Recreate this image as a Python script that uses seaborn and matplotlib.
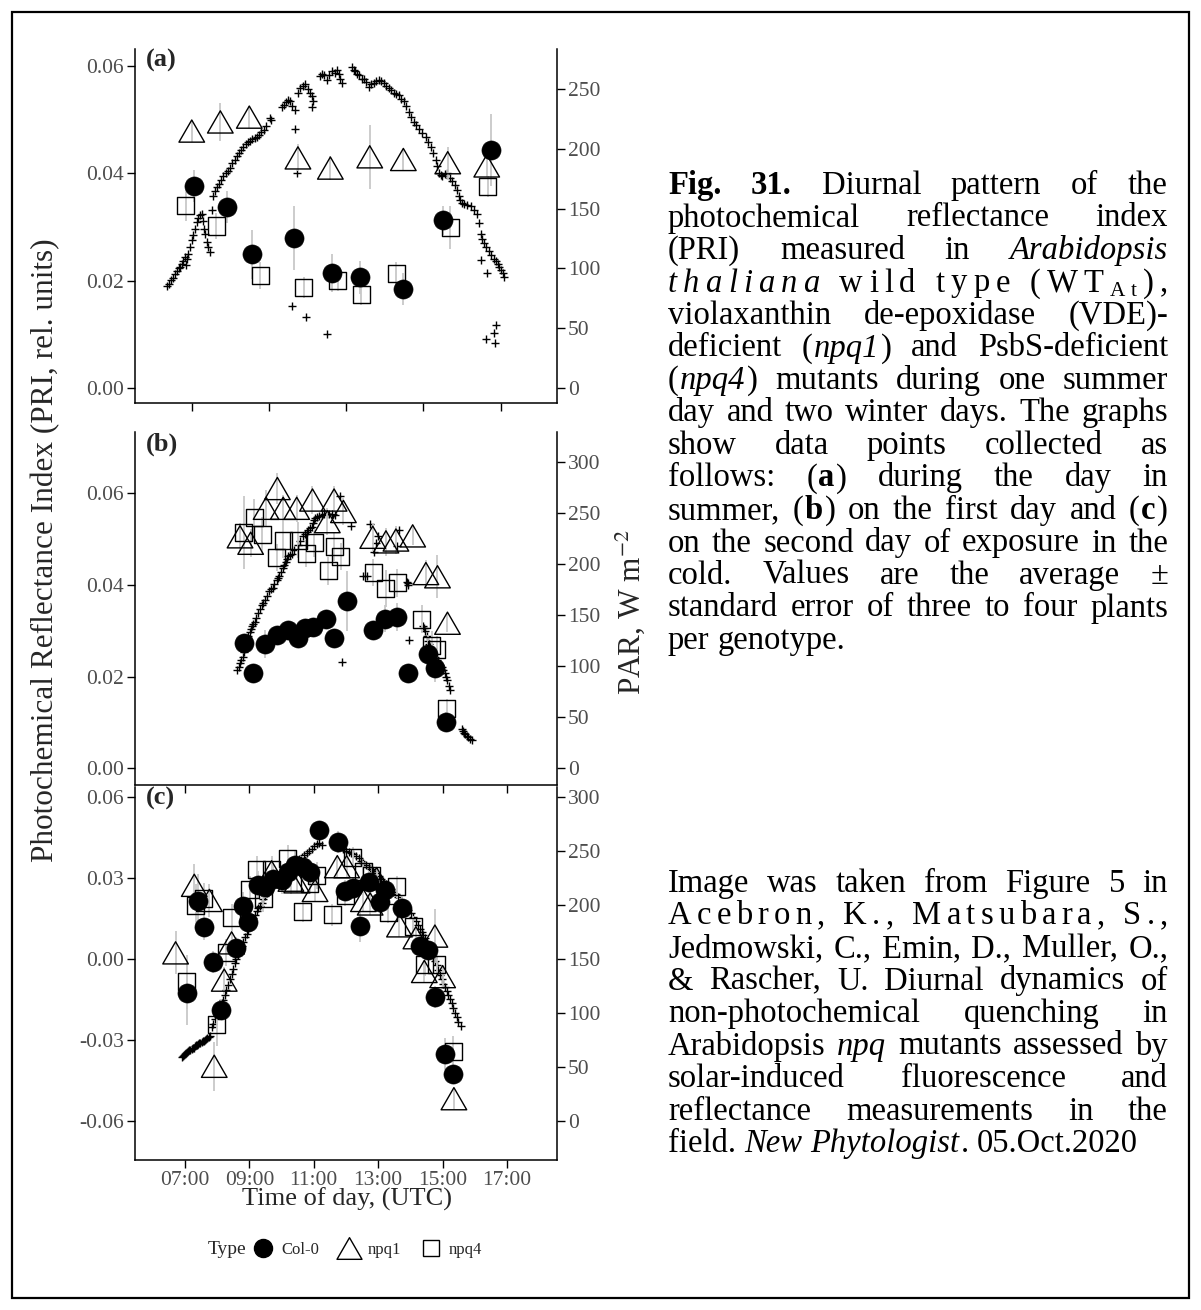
import numpy as np
import pandas as pd
import matplotlib
matplotlib.use("Agg")
import matplotlib.pyplot as plt
import seaborn as sns
from matplotlib.lines import Line2D
from matplotlib.markers import MarkerStyle
from matplotlib.path import Path
from matplotlib.patches import Rectangle

# ---------------- data ----------------
# Panel (a) summer day
a_col0_t = [7.07, 7.91, 8.56, 9.64, 10.62, 11.37, 12.48, 13.51, 14.74]
a_col0_pri = [0.0376, 0.0337, 0.0249, 0.0280, 0.0214, 0.0206, 0.0185, 0.0313, 0.0443]
a_col0_se = [0.003, 0.003, 0.0045, 0.006, 0.0035, 0.003, 0.003, 0.0027, 0.0067]
a_npq1_t = [7.0, 7.74, 8.49, 9.75, 10.59, 11.61, 12.48, 13.63, 14.64]
a_npq1_pri = [0.0479, 0.0496, 0.0505, 0.0429, 0.0410, 0.0431, 0.0426, 0.0420, 0.0414]
a_npq1_se = [0.002, 0.0035, 0.002, 0.0025, 0.0022, 0.006, 0.002, 0.003, 0.002]
a_npq4_t = [6.84, 7.63, 8.77, 9.90, 10.78, 11.39, 12.30, 13.70, 14.67]
a_npq4_pri = [0.0341, 0.0302, 0.0209, 0.0187, 0.0200, 0.0175, 0.0214, 0.0299, 0.0376]
a_npq4_se = [0.003, 0.0025, 0.0025, 0.002, 0.002, 0.002, 0.002, 0.004, 0.002]
a_par_t = [6.37, 6.42, 6.47, 6.52, 6.57, 6.62, 6.66, 6.70, 6.74, 6.78, 6.83, 6.86, 6.88, 6.91, 6.95,
           7.00, 7.04, 7.08, 7.13, 7.17, 7.22, 7.26, 7.30, 7.33, 7.35, 7.40, 7.43, 7.48, 7.52, 7.55,
           7.60, 7.65, 7.70, 7.75, 7.82, 7.88, 7.94, 7.99, 8.05, 8.11, 8.17, 8.23, 8.28, 8.34, 8.40,
           8.46, 8.51, 8.57, 8.63, 8.69, 8.75, 8.80, 8.86, 8.92, 9.03, 9.05, 9.35, 9.40, 9.45, 9.50,
           9.55, 9.60, 9.68, 9.68, 9.72, 9.60, 9.97, 10.49, 9.75, 9.81, 9.87, 9.94, 10.00, 10.06, 10.11,
           10.11, 10.15, 10.33, 10.38, 10.43, 10.50, 10.55, 10.63, 10.70, 10.75, 10.81, 10.85, 10.89, 11.15, 11.20,
           11.24, 11.28, 11.33, 11.40, 11.46, 11.52, 11.58, 11.65, 11.71, 11.78, 11.84, 11.90, 11.97, 12.03, 12.10,
           12.16, 12.23, 12.30, 12.36, 12.42, 12.49, 12.55, 12.62, 12.68, 12.75, 12.81, 12.88, 12.97, 13.06, 13.12,
           13.19, 13.25, 13.32, 13.36, 13.40, 13.45, 13.49, 13.55, 13.62, 13.68, 13.75, 13.81, 13.88, 13.92, 13.96,
           14.00, 14.05, 14.12, 14.22, 14.30, 14.40, 14.44, 14.48, 14.52, 14.57, 14.62, 14.70, 14.76, 14.83, 14.88,
           14.92, 14.96, 15.00, 15.05, 15.09, 14.48, 14.65, 14.63, 14.84, 14.86, 14.87]
a_par = [85, 87, 90, 92, 95, 98, 100, 101, 104, 106, 110, 103, 108, 112, 118,
         124, 128, 133, 139, 142, 145, 146, 140, 133, 129, 122, 118, 114, 149, 161,
         165, 168, 171, 174, 177, 180, 182, 184, 188, 191, 194, 197, 199, 202, 204,
         206, 207, 208, 209, 210, 212, 214, 216, 219, 226, 224, 235, 237, 239, 241,
         240, 236, 233, 217, 180, 69, 59, 45, 247, 251, 253, 254, 250, 247, 244,
         235, 240, 261, 263, 262, 258, 262, 265, 264, 266, 263, 259, 255, 269, 266,
         265, 263, 262, 259, 259, 256, 252, 254, 255, 257, 258, 257, 255, 253, 251,
         249, 247, 246, 245, 242, 240, 236, 231, 227, 223, 220, 217, 213, 210, 206,
         202, 197, 191, 186, 180, 178, 177, 179, 180, 176, 173, 170, 166, 161, 157,
         155, 154, 153, 152, 149, 146, 138, 129, 125, 121, 118, 115, 111, 108, 106,
         104, 101, 99, 96, 93, 107, 96, 41, 46, 38, 53]

# Panel (b) first cold day
b_col0_t = [8.83, 9.12, 9.48, 9.85, 10.21, 10.52, 10.73, 10.99, 11.37, 11.63, 12.04, 12.85, 13.21, 13.57, 13.94, 14.54, 14.76, 15.11]
b_col0_pri = [0.0272, 0.0207, 0.0271, 0.0290, 0.0301, 0.0283, 0.0305, 0.0308, 0.0325, 0.0283, 0.0365, 0.0301, 0.0326, 0.0330, 0.0207, 0.0250, 0.0218, 0.0102]
b_col0_se = [0.002, 0.0015, 0.003, 0.002, 0.002, 0.002, 0.002, 0.002, 0.002, 0.002, 0.0065, 0.002, 0.003, 0.003, 0.002, 0.004, 0.003, 0.002]
b_npq1_t = [8.71, 9.04, 9.52, 9.87, 10.05, 10.47, 10.96, 11.42, 11.63, 11.92, 12.83, 13.24, 13.55, 14.07, 14.48, 14.84, 15.15]
b_npq1_pri = [0.0504, 0.0490, 0.0566, 0.0609, 0.0566, 0.0566, 0.0584, 0.0537, 0.0584, 0.0559, 0.0503, 0.0493, 0.0497, 0.0506, 0.0424, 0.0417, 0.0316]
b_npq1_se = [0.003, 0.003, 0.004, 0.0033, 0.003, 0.003, 0.003, 0.003, 0.003, 0.003, 0.003, 0.003, 0.003, 0.002, 0.003, 0.0047, 0.002]
b_npq4_t = [8.83, 9.15, 9.40, 9.85, 10.05, 10.52, 10.76, 11.01, 11.45, 11.63, 11.84, 12.85, 13.24, 13.59, 14.35, 14.66, 14.82, 15.13]
b_npq4_pri = [0.0513, 0.0546, 0.0508, 0.0459, 0.0497, 0.0497, 0.0468, 0.0491, 0.0430, 0.0482, 0.0461, 0.0426, 0.0391, 0.0404, 0.0325, 0.0268, 0.0258, 0.0131]
b_npq4_se = [0.008, 0.004, 0.004, 0.003, 0.004, 0.004, 0.003, 0.003, 0.003, 0.003, 0.003, 0.003, 0.004, 0.003, 0.003, 0.003, 0.003, 0.002]
b_par_t = [8.63, 8.67, 8.71, 8.75, 8.79, 8.83, 8.86, 8.90, 8.93, 8.97, 9.01, 9.04, 9.07, 9.12, 9.17,
           9.22, 9.28, 9.33, 9.38, 9.43, 9.48, 9.55, 9.62, 9.67, 9.72, 9.78, 9.85, 9.89, 9.93, 9.98,
           10.03, 10.08, 10.14, 10.18, 10.21, 10.26, 10.31, 10.40, 10.50, 10.58, 10.67, 10.72, 10.78, 10.83, 10.88,
           10.93, 10.97, 11.01, 11.05, 11.09, 11.16, 11.24, 11.32, 11.40, 11.47, 11.55, 11.60, 11.66, 11.81, 12.16,
           11.89, 12.54, 12.64, 12.75, 12.87, 12.92, 13.00, 13.57, 13.63, 13.88, 13.91, 13.94, 13.97, 14.38, 14.42,
           14.46, 14.51, 14.55, 14.59, 14.62, 14.66, 14.71, 14.76, 14.82, 14.87, 14.92, 14.97, 15.02, 15.07, 15.11,
           15.15, 15.19, 15.23, 15.59, 15.62, 15.66, 15.70, 15.75, 15.80, 15.85, 15.90]
b_par = [96, 99, 103, 106, 109, 114, 119, 122, 125, 129, 133, 136, 139, 141, 143,
         147, 152, 156, 160, 162, 165, 169, 173, 175, 176, 180, 184, 186, 188, 192,
         196, 199, 202, 205, 208, 209, 210, 214, 218, 222, 227, 229, 231, 233, 235,
         236, 240, 243, 245, 246, 247, 248, 249, 249, 249, 249, 249, 248, 266, 237,
         104, 188, 188, 239, 212, 220, 227, 217, 233, 182, 181, 179, 126, 139, 137,
         134, 129, 125, 122, 119, 116, 113, 109, 106, 104, 101, 99, 96, 93, 89,
         86, 81, 77, 38, 37, 35, 34, 32, 31, 29, 28]

# Panel (c) second cold day
c_col0_t = [7.07, 7.41, 7.59, 7.86, 8.11, 8.60, 8.81, 8.97, 9.28, 9.48, 9.74, 10.00, 10.21, 10.42, 10.67,
            10.88, 11.17, 11.76, 11.97, 12.21, 12.43, 12.72, 13.04, 13.21, 13.73, 14.30, 14.56, 14.76, 15.07, 15.33]
c_col0_pri = [-0.0124, 0.0214, 0.0120, -0.0011, -0.0187, 0.0041, 0.0198, 0.0139, 0.0276, 0.0267, 0.0298, 0.0292, 0.0323, 0.0349, 0.0342,
              0.0323, 0.0476, 0.0434, 0.0251, 0.0263, 0.0123, 0.0286, 0.0211, 0.0254, 0.0188, 0.0048, 0.0035, -0.0140, -0.0351, -0.0426]
c_col0_se = [0.012, 0.01, 0.005, 0.004, 0.004, 0.004, 0.005, 0.004, 0.005, 0.004, 0.005, 0.005, 0.004, 0.005, 0.004,
             0.004, 0.003, 0.004, 0.004, 0.004, 0.006, 0.004, 0.004, 0.004, 0.004, 0.003, 0.003, 0.004, 0.006, 0.003]
c_npq1_t = [6.71, 7.29, 7.76, 7.91, 8.22, 8.45, 9.69, 10.29, 10.47, 11.04, 11.73, 12.02, 12.54, 12.75, 12.95, 13.66, 14.17, 14.43, 14.76, 15.00, 15.35]
c_npq1_pri = [0.0023, 0.0273, 0.0217, -0.0397, -0.0078, 0.0060, 0.0323, 0.0292, 0.0286, 0.0254, 0.0342, 0.0342, 0.0217, 0.0204, 0.0298, 0.0123, 0.0079, -0.0046, 0.0085, -0.0065, -0.0517]
c_npq1_se = [0.008, 0.008, 0.006, 0.009, 0.005, 0.004, 0.005, 0.005, 0.004, 0.004, 0.004, 0.004, 0.004, 0.004, 0.004, 0.004, 0.004, 0.004, 0.01, 0.004, 0.004]
c_npq4_t = [7.05, 7.34, 7.59, 7.98, 8.29, 8.45, 9.02, 9.23, 9.43, 9.69, 10.19, 10.65, 10.88, 11.09, 11.58, 11.97, 12.21, 12.54, 12.80, 13.31, 13.57, 14.09, 14.45, 14.82, 15.33]
c_npq4_pri = [-0.0084, 0.0198, 0.0223, -0.0241, 0.0023, 0.0154, 0.0257, 0.0330, 0.0223, 0.0330, 0.0374, 0.0176, 0.0280, 0.0311, 0.0164, 0.0236, 0.0376, 0.0323, 0.0311, 0.0173, 0.0267, 0.0120, -0.0021, -0.0021, -0.0344]
c_npq4_se = [0.01, 0.008, 0.006, 0.008, 0.005, 0.005, 0.005, 0.005, 0.005, 0.005, 0.005, 0.004, 0.004, 0.005, 0.004, 0.004, 0.004, 0.004, 0.004, 0.004, 0.004, 0.004, 0.004, 0.004, 0.006]
c_par_t = [6.90, 6.94, 6.97, 7.00, 7.03, 7.07, 7.10, 7.14, 7.17, 7.21, 7.24, 7.28, 7.31, 7.35, 7.38,
           7.41, 7.45, 7.48, 7.52, 7.55, 7.59, 7.62, 7.66, 7.70, 7.74, 7.78, 7.83, 7.88, 7.93, 7.98,
           8.04, 8.09, 8.14, 8.19, 8.24, 8.29, 8.34, 8.40, 8.45, 8.50, 8.55, 8.60, 8.66, 8.71, 8.76,
           8.81, 8.86, 8.92, 8.97, 9.02, 9.07, 9.12, 9.17, 9.23, 9.28, 9.33, 9.38, 9.43, 9.48, 9.54,
           9.61, 9.69, 9.77, 9.85, 9.92, 10.00, 10.08, 10.16, 10.23, 10.31, 10.39, 10.47, 10.54, 10.62, 10.70,
           10.78, 10.85, 10.93, 11.01, 11.09, 11.16, 11.24, 11.92, 12.00, 12.08, 12.16, 12.23, 12.31, 12.39, 12.47,
           12.54, 12.62, 12.70, 12.78, 12.85, 12.93, 13.01, 13.08, 13.16, 13.24, 13.31, 13.39, 13.47, 13.55, 13.62,
           13.70, 13.78, 13.86, 13.93, 14.01, 14.09, 14.16, 14.24, 14.30, 14.35, 14.40, 14.45, 14.51, 14.56, 14.61,
           14.66, 14.71, 14.76, 14.82, 14.87, 14.92, 14.97, 15.02, 15.08, 15.13, 15.18, 15.23, 15.28, 15.33, 15.39,
           15.44, 15.49, 15.56]
c_par = [59, 60, 61, 62, 63, 64, 65, 66, 66, 67, 68, 68, 69, 70, 70,
         71, 72, 72, 73, 74, 74, 75, 76, 77, 78, 79, 87, 90, 94, 99,
         102, 105, 109, 112, 117, 121, 126, 131, 136, 141, 146, 150, 154, 158, 162,
         166, 170, 173, 177, 181, 185, 188, 191, 194, 197, 199, 202, 205, 208, 211,
         214, 217, 220, 222, 225, 227, 229, 231, 234, 236, 238, 240, 242, 244, 246,
         248, 250, 252, 254, 256, 257, 255, 252, 250, 249, 248, 247, 245, 243, 241,
         239, 237, 235, 233, 231, 229, 227, 224, 222, 219, 217, 215, 212, 210, 207,
         204, 202, 199, 195, 192, 189, 185, 181, 178, 175, 172, 169, 166, 163, 160,
         156, 152, 148, 144, 140, 135, 131, 127, 124, 120, 117, 113, 109, 105, 100,
         96, 92, 88]

genotypes = ["Col-0", "npq1", "npq4"]
time_tick_labels = ["07:00", "09:00", "11:00", "13:00", "15:00", "17:00"]
pri_labels_ab = ["0.00", "0.02", "0.04", "0.06"]
pri_labels_c = ["-0.06", "-0.03", "0.00", "0.03", "0.06"]

# ---------------- style ----------------
sns.set_theme(style="ticks")
plt.rcParams["font.family"] = ["Liberation Serif", "DejaVu Serif"]
plt.rcParams["mathtext.fontset"] = "stix"
plt.rcParams["axes.unicode_minus"] = False

W, H = 1201, 1310
fig = plt.figure(figsize=(W / 100, H / 100), dpi=100)
fig.patch.set_facecolor("white")


def fx(px):
    return px / W


def fy(py):
    return 1 - py / H


TRI = MarkerStyle(Path([(0, 1), (-1.1547, -1), (1.1547, -1), (0, 1)],
                       [Path.MOVETO, Path.LINETO, Path.LINETO, Path.CLOSEPOLY]))
GREY = "#4D4D4D"


def draw_panel(rect, series, par_t, par_v, xlim, xticks, xticklabels,
               ylim, yticks, yticklabels, ylim2, yticks2, tag):
    ax = fig.add_axes(rect)
    ax2 = ax.twinx()
    ax.set_zorder(ax2.get_zorder() + 1)
    ax.patch.set_visible(False)
    sns.scatterplot(x=par_t, y=par_v, marker="+", color="black", s=30,
                    linewidth=1.0, ax=ax2, legend=False)
    for t, v, se, kind in series:
        t, v, se = np.asarray(t), np.asarray(v), np.asarray(se)
        ax.vlines(t, v - se, v + se, color="#C8C8C8", lw=1.3, zorder=1)
    for t, v, se, kind in series:
        if kind == "Col-0":
            sns.scatterplot(x=t, y=v, marker="o", s=190, color="black",
                            edgecolor="black", linewidth=0.4, ax=ax, legend=False, zorder=3)
        else:
            m = TRI if kind == "npq1" else "s"
            size = 340 if kind == "npq1" else 150
            sns.scatterplot(x=t, y=v, marker=m, s=size, color="black", ax=ax,
                            legend=False, zorder=3)
            coll = ax.collections[-1]
            coll.set_facecolor("none")
            coll.set_edgecolor("black")
            coll.set_linewidth(1.0)
    ax.set_xlim(xlim)
    ax.set_ylim(ylim)
    ax2.set_ylim(ylim2)
    ax.set_xticks(xticks)
    ax.set_xticklabels(xticklabels)
    ax.set_yticks(yticks)
    ax.set_yticklabels(yticklabels)
    ax2.set_yticks(yticks2)
    ax2.set_yticklabels([str(v) for v in yticks2])
    for a in (ax, ax2):
        a.set_xlabel("")
        a.set_ylabel("")
        a.grid(False)
        for s in a.spines.values():
            s.set_linewidth(1.1)
            s.set_color("black")
        a.spines["top"].set_visible(False)
    ax.spines["right"].set_visible(False)
    ax2.spines["left"].set_visible(False)
    ax2.spines["bottom"].set_visible(False)
    ax.tick_params(axis="both", length=6, width=1.0, color="black",
                   labelcolor=GREY, labelsize=15.5, pad=2)
    ax2.tick_params(axis="y", length=6, width=1.0, color="black",
                    labelcolor=GREY, labelsize=15.5, pad=2)
    ax.text(0.025, 0.999, tag, transform=ax.transAxes, fontsize=19,
            fontweight="bold", va="top", ha="left")
    return ax


draw_panel([fx(135), fy(403), 422 / W, 354 / H],
           [(a_col0_t, a_col0_pri, a_col0_se, "Col-0"),
            (a_npq1_t, a_npq1_pri, a_npq1_se, "npq1"),
            (a_npq4_t, a_npq4_pri, a_npq4_se, "npq4")],
           a_par_t, a_par, (5.53, 16.46), [7, 9, 11, 13, 15], [""] * 5,
           (-0.0028, 0.0632), [0, 0.02, 0.04, 0.06], pri_labels_ab,
           (-12.6, 283.7), [0, 50, 100, 150, 200, 250], "(a)")
draw_panel([fx(135), fy(785), 422 / W, 353 / H],
           [(b_col0_t, b_col0_pri, b_col0_se, "Col-0"),
            (b_npq1_t, b_npq1_pri, b_npq1_se, "npq1"),
            (b_npq4_t, b_npq4_pri, b_npq4_se, "npq4")],
           b_par_t, b_par, (5.45, 18.55), [7, 9, 11, 13, 15, 17], [""] * 6,
           (-0.0036, 0.0732), [0, 0.02, 0.04, 0.06], pri_labels_ab,
           (-16.3, 329), [0, 50, 100, 150, 200, 250, 300], "(b)")
draw_panel([fx(135), fy(1160), 422 / W, 373 / H],
           [(c_col0_t, c_col0_pri, c_col0_se, "Col-0"),
            (c_npq1_t, c_npq1_pri, c_npq1_se, "npq1"),
            (c_npq4_t, c_npq4_pri, c_npq4_se, "npq4")],
           c_par_t, c_par, (5.45, 18.55), [7, 9, 11, 13, 15, 17], time_tick_labels,
           (-0.0744, 0.0637), [-0.06, -0.03, 0, 0.03, 0.06], pri_labels_c,
           (-36, 309), [0, 50, 100, 150, 200, 250, 300], "(c)")

# axis titles
fig.text(fx(46), fy(550), "Photochemical Reflectance Index (PRI, rel. units)",
         rotation=90, ha="center", va="center", fontsize=22.5)
fig.text(fx(630), fy(612), "PAR, W m$^{-2}$", rotation=90, ha="center",
         va="center", fontsize=22.5)
fig.text(fx(347), fy(1206), "Time of day, (UTC)", ha="center", va="baseline",
         fontsize=19)

# legend
handles = [Line2D([], [], ls="", marker="o", color="black", markersize=13),
           Line2D([], [], ls="", marker=TRI, mfc="none", mec="black", markersize=18, mew=1.0),
           Line2D([], [], ls="", marker="s", mfc="none", mec="black", markersize=12, mew=1.0)]
fig.legend(handles, genotypes, loc="center left", bbox_to_anchor=(fx(252), fy(1250)),
           ncol=3, frameon=False, fontsize=12, handlelength=1.3, handletextpad=0.45,
           columnspacing=1.15, borderpad=0, borderaxespad=0)
fig.text(fx(208), fy(1250), "Type", fontsize=14, va="center", ha="left")

# outer frame
fig.add_artist(Rectangle((fx(12), fy(1298)), (1189 - 12) / W, (1298 - 12) / H,
                         transform=fig.transFigure, fill=False, lw=1.6, ec="black"))

# ---------------- caption (justified text) ----------------
FS = 23.5
renderer = fig.canvas.get_renderer()


def props(st):
    d = dict(fontsize=FS, family=["Liberation Serif", "DejaVu Serif"], color="black")
    if st == "b":
        d["fontweight"] = "bold"
    if st == "i":
        d["fontstyle"] = "italic"
    if st == "s":
        d["fontsize"] = FS * 0.65
    return d


def text_width(txt, st):
    t = fig.text(0, 0, txt, **props(st))
    w = t.get_window_extent(renderer).width
    t.remove()
    return w


SPACE = text_width("a a", "n") - text_width("aa", "n")


def tokenize(segs):
    words = [[]]
    for txt, st in segs:
        parts = txt.split(" ")
        for k, p in enumerate(parts):
            if k > 0:
                words.append([])
            if p:
                words[-1].append((p, st))
    return [w for w in words if w]


def put(x, y, txt, st):
    yy = y + (5 if st == "s" else 0)
    fig.text(fx(x), fy(yy), txt, va="baseline", ha="left", **props(st))


def draw_line(segs, mode, x0, x1, y):
    words = tokenize(segs)
    if mode == "chars":
        units = []
        for k, w in enumerate(words):
            if k:
                units.append((" ", "n", SPACE))
            for piece, st in w:
                for c in piece:
                    units.append((c, st, text_width(c, st)))
        gap = (x1 - x0 - sum(u[2] for u in units)) / (len(units) - 1)
        x = x0
        for c, st, w in units:
            if c != " ":
                put(x, y, c, st)
            x += w + gap
        return
    ws = [[(p, st, text_width(p, st)) for p, st in w] for w in words]
    wl = [sum(p[2] for p in w) + 1.5 * (len(w) - 1) for w in ws]
    if mode == "words" and len(ws) > 1:
        gap = (x1 - x0 - sum(wl)) / (len(ws) - 1)
    else:
        gap = SPACE
    x = x0
    for w, l in zip(ws, wl):
        xx = x
        for p, st, pw in w:
            put(xx, y, p, st)
            xx += pw + 1.5
        x += l + gap


caption1 = [
    ([("Fig. 31.", "b"), (" Diurnal pattern of the", "n")], "words"),
    ([("photochemical reflectance index", "n")], "words"),
    ([("(PRI) measured in ", "n"), ("Arabidopsis", "i")], "words"),
    ([("thaliana", "i"), (" wild type (WT", "n"), ("At", "s"), ("),", "n")], "chars"),
    ([("violaxanthin de-epoxidase (VDE)-", "n")], "words"),
    ([("deficient (", "n"), ("npq1", "i"), (") and PsbS-deficient", "n")], "words"),
    ([("(", "n"), ("npq4", "i"), (") mutants during one summer", "n")], "words"),
    ([("day and two winter days. The graphs", "n")], "words"),
    ([("show data points collected as", "n")], "words"),
    ([("follows: (", "n"), ("a", "b"), (") during the day in", "n")], "words"),
    ([("summer, (", "n"), ("b", "b"), (") on the first day and (", "n"), ("c", "b"), (")", "n")], "words"),
    ([("on the second day of exposure in the", "n")], "words"),
    ([("cold. Values are the average ±", "n")], "words"),
    ([("standard error of three to four plants", "n")], "words"),
    ([("per genotype.", "n")], "left"),
]
caption2 = [
    ([("Image was taken from Figure 5 in", "n")], "words"),
    ([("Acebron, K., Matsubara, S.,", "n")], "chars"),
    ([("Jedmowski, C., Emin, D., Muller, O.,", "n")], "words"),
    ([("& Rascher, U. Diurnal dynamics of", "n")], "words"),
    ([("non-photochemical quenching in", "n")], "words"),
    ([("Arabidopsis ", "n"), ("npq", "i"), (" mutants assessed by", "n")], "words"),
    ([("solar-induced fluorescence and", "n")], "words"),
    ([("reflectance measurements in the", "n")], "words"),
    ([("field. ", "n"), ("New Phytologist", "i"), (". 05.Oct.2020", "n")], "left"),
]

LX0, LX1, LSTEP = 668, 1168, 32.5
for i, (segs, mode) in enumerate(caption1):
    draw_line(segs, mode, LX0, LX1, 194 + i * LSTEP)
for i, (segs, mode) in enumerate(caption2):
    draw_line(segs, mode, LX0, LX1, 892 + i * LSTEP)

fig.savefig("out.png", dpi=100, facecolor="white")
